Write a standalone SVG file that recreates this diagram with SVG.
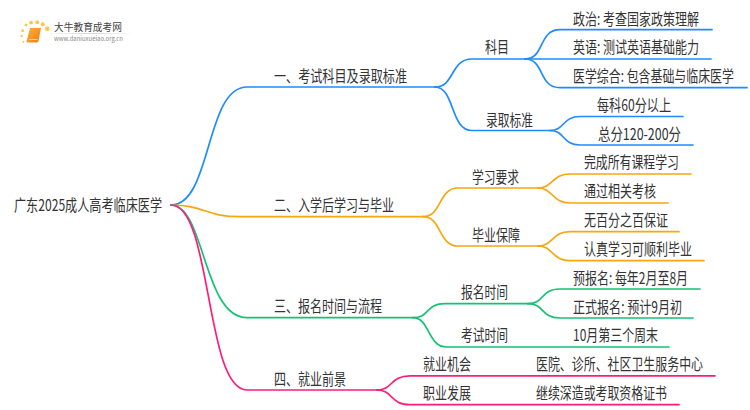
<svg xmlns="http://www.w3.org/2000/svg" width="750" height="410" viewBox="0 0 750 410">
<defs>
<linearGradient id="fade" x1="0" x2="1" y1="0" y2="0"><stop offset="0" stop-color="#ccc" stop-opacity="0.2"/><stop offset="0.5" stop-color="#ccc"/><stop offset="1" stop-color="#ccc" stop-opacity="0"/></linearGradient>
<linearGradient id="book" x1="0" x2="1" y1="0" y2="1"><stop offset="0" stop-color="#fbb03b"/><stop offset="1" stop-color="#ef7d12"/></linearGradient>
</defs>
<style>
text{font-family:"Noto Sans CJK SC","Noto Sans",sans-serif;font-size:16px;fill:#333;}
.c{fill:none;stroke-width:1.7;stroke-linecap:round;}
.b{stroke:#1e8cff}.o{stroke:#f8a70c}.g{stroke:#15c273}.p{stroke:#ff1c7c}
.d{fill:#fbc64a}
</style>
<rect width="750" height="410" fill="#fff"/>
<g id="logo">
<circle class="d" cx="26" cy="25" r="1.5"/><circle class="d" cx="31" cy="22.7" r="1.9"/><circle class="d" cx="37.3" cy="22.3" r="2"/><circle class="d" cx="42.7" cy="24.3" r="2"/><circle class="d" cx="47.3" cy="28.7" r="2.3"/><circle class="d" cx="22.7" cy="30.7" r="1.4"/><circle class="d" cx="21.7" cy="36" r="1.2"/><circle class="d" cx="23.3" cy="41.7" r="1"/>
<path d="M30 28H41L38.5 41Q38.3 42.500 36.500 42.500H27.500Q26.300 42.500 26.700 41Z" fill="url(#book)"/>
<path d="M29 39.500H37.500" stroke="#ffe3b0" stroke-width="0.8" fill="none"/>
<text x="54" y="31" textLength="68" lengthAdjust="spacingAndGlyphs" style="font-size:10.5px;fill:#444">大牛教育成考网</text>
<rect x="50" y="33" width="84" height="0.8" fill="url(#fade)"/>
<text x="54" y="41" textLength="69" lengthAdjust="spacingAndGlyphs" style="font-size:6.5px;fill:#888">www.daniuxueiao.org.cn</text>
</g>
<g id="connectors">
<path class="c b" d="M171 205C212 205 205 87 247 87H435"/>
<path class="c b" d="M435 87C455 87 450 59 472 59H525"/>
<path class="c b" d="M435 87C455 87 450 130.500 472 130.500H550"/>
<path class="c b" d="M525 59C545 59 538 29.700 560 29.700H712"/>
<path class="c b" d="M525 59H711"/>
<path class="c b" d="M525 59C545 59 538 87.700 560 87.700H747"/>
<path class="c b" d="M550 130.500C565 130.500 562 116.500 580 116.500H683"/>
<path class="c b" d="M550 130.500C565 130.500 562 145 580 145H693"/>
<path class="c o" d="M171 205C205 205 205 216.700 240 216.700H423"/>
<path class="c o" d="M423 216.700C442 216.700 438 188 458 188H538"/>
<path class="c o" d="M423 216.700C442 216.700 438 246 458 246H538"/>
<path class="c o" d="M538 188C553 188 552 174 570 174H691"/>
<path class="c o" d="M538 188C553 188 552 203 570 203H668"/>
<path class="c o" d="M538 246C553 246 552 231.700 570 231.700H679"/>
<path class="c o" d="M538 246C553 246 552 260.700 570 260.700H704"/>
<path class="c g" d="M171 205C205 205 203 317.700 247 317.700H413"/>
<path class="c g" d="M413 317.700C430 317.700 425 303.700 445 303.700H528"/>
<path class="c g" d="M413 317.700C430 317.700 427 347 447 347H669"/>
<path class="c g" d="M528 303.700C545 303.700 540 289 560 289H700"/>
<path class="c g" d="M528 303.700C545 303.700 540 318 560 318H693"/>
<path class="c p" d="M171 205C212 205 205 390 247 390H377"/>
<path class="c p" d="M377 390C393 390 390 375.800 410 375.800H715"/>
<path class="c p" d="M377 390C393 390 390 404.700 410 404.700H679"/>
</g>
<g id="root"><text x="14" y="211" textLength="148" lengthAdjust="spacingAndGlyphs">广东2025成人高考临床医学</text></g>
<g id="n1"><text x="274" y="82" textLength="133" lengthAdjust="spacingAndGlyphs">一、考试科目及录取标准</text></g>
<g id="n2"><text x="274" y="211" textLength="120" lengthAdjust="spacingAndGlyphs">二、入学后学习与毕业</text></g>
<g id="n3"><text x="274" y="312" textLength="108" lengthAdjust="spacingAndGlyphs">三、报名时间与流程</text></g>
<g id="n4"><text x="274" y="385" textLength="72" lengthAdjust="spacingAndGlyphs">四、就业前景</text></g>
<g id="n1-1"><text x="485" y="53" textLength="24" lengthAdjust="spacingAndGlyphs">科目</text></g>
<g id="n1-2"><text x="486" y="125.500" textLength="47" lengthAdjust="spacingAndGlyphs">录取标准</text></g>
<g id="n1-1-1"><text x="573" y="24.500" textLength="126" lengthAdjust="spacingAndGlyphs">政治: 考查国家政策理解</text></g>
<g id="n1-1-2"><text x="573" y="53" textLength="126" lengthAdjust="spacingAndGlyphs">英语: 测试英语基础能力</text></g>
<g id="n1-1-3"><text transform="translate(573 82) scale(.745 1)" textLength="216" lengthAdjust="spacingAndGlyphs">医学综合: 包含基础与临床医学</text></g>
<g id="n1-2-1"><text x="597" y="111" textLength="74" lengthAdjust="spacingAndGlyphs">每科60分以上</text></g>
<g id="n1-2-2"><text x="598" y="140" textLength="83" lengthAdjust="spacingAndGlyphs">总分120-200分</text></g>
<g id="n2-1"><text x="472" y="182.500" textLength="47" lengthAdjust="spacingAndGlyphs">学习要求</text></g>
<g id="n2-2"><text x="472" y="240.500" textLength="48" lengthAdjust="spacingAndGlyphs">毕业保障</text></g>
<g id="n2-1-1"><text x="584" y="168" textLength="95" lengthAdjust="spacingAndGlyphs">完成所有课程学习</text></g>
<g id="n2-1-2"><text x="584" y="197" textLength="72" lengthAdjust="spacingAndGlyphs">通过相关考核</text></g>
<g id="n2-2-1"><text x="584" y="226" textLength="84" lengthAdjust="spacingAndGlyphs">无百分之百保证</text></g>
<g id="n2-2-2"><text x="584" y="255" textLength="108" lengthAdjust="spacingAndGlyphs">认真学习可顺利毕业</text></g>
<g id="n3-1"><text x="461" y="298" textLength="47" lengthAdjust="spacingAndGlyphs">报名时间</text></g>
<g id="n3-2"><text x="461" y="341" textLength="47" lengthAdjust="spacingAndGlyphs">考试时间</text></g>
<g id="n3-1-1"><text x="573" y="283.500" textLength="115" lengthAdjust="spacingAndGlyphs">预报名: 每年2月至8月</text></g>
<g id="n3-1-2"><text x="573" y="312.500" textLength="109" lengthAdjust="spacingAndGlyphs">正式报名: 预计9月初</text></g>
<g id="n3-2-1"><text x="573" y="341" textLength="85" lengthAdjust="spacingAndGlyphs">10月第三个周末</text></g>
<g id="n4-1"><text x="423" y="370" textLength="48" lengthAdjust="spacingAndGlyphs">就业机会</text></g>
<g id="n4-2"><text x="423" y="399" textLength="48" lengthAdjust="spacingAndGlyphs">职业发展</text></g>
<g id="n4-1-1"><text transform="translate(536 370) scale(.7455 1)" textLength="224" lengthAdjust="spacingAndGlyphs">医院、诊所、社区卫生服务中心</text></g>
<g id="n4-2-1"><text x="536" y="399" textLength="131" lengthAdjust="spacingAndGlyphs">继续深造或考取资格证书</text></g>
</svg>
